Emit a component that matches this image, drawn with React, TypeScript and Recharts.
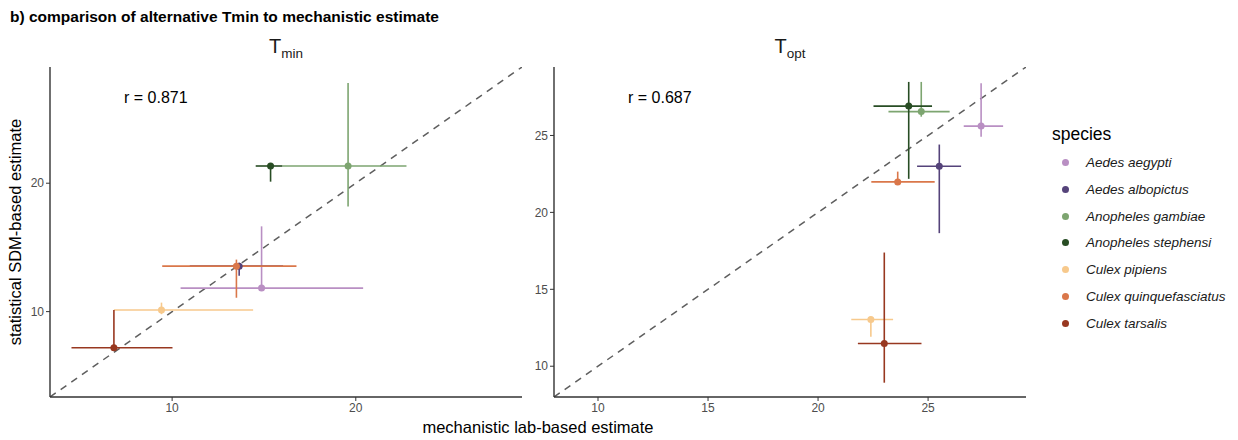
import React from "react";
import {
  ScatterChart,
  Scatter,
  XAxis,
  YAxis,
  ErrorBar,
  ReferenceLine,
} from "recharts";

const FONT = '"Liberation Sans", Arial, sans-serif';

const SPECIES = [
  "Aedes aegypti",
  "Aedes albopictus",
  "Anopheles gambiae",
  "Anopheles stephensi",
  "Culex pipiens",
  "Culex quinquefasciatus",
  "Culex tarsalis",
];
const COLORS = ["#b98fc3", "#55437a", "#7da570", "#284d24", "#f7c98c", "#da774a", "#983820"];

// Tmin panel: mechanistic (x) vs statistical (y), with bounds
const TMIN_MECH = [14.87, 13.65, 19.58, 15.36, 9.42, 13.5, 6.83];
const TMIN_MECH_LO = [10.46, 10.96, 16.0, 14.55, 6.83, 9.46, 4.52];
const TMIN_MECH_HI = [20.4, 16.04, 22.76, 16.0, 14.41, 16.77, 10.02];
const TMIN_SDM = [11.83, 13.54, 21.34, 21.34, 10.12, 13.54, 7.18];
const TMIN_SDM_LO = [11.83, 12.8, 18.19, 20.12, 9.8, 11.08, 7.18];
const TMIN_SDM_HI = [16.64, 13.8, 27.8, 21.34, 10.7, 14.05, 10.12];

// Topt panel
const TOPT_MECH = [27.41, 25.51, 24.69, 24.12, 22.4, 23.62, 23.01];
const TOPT_MECH_LO = [26.62, 24.5, 23.2, 22.52, 21.51, 22.42, 21.81];
const TOPT_MECH_HI = [28.41, 26.5, 25.98, 25.18, 23.41, 25.3, 24.7];
const TOPT_SDM = [25.61, 23.0, 26.55, 26.91, 13.04, 21.98, 11.48];
const TOPT_SDM_LO = [24.92, 18.65, 26.22, 22.18, 11.91, 21.98, 8.93];
const TOPT_SDM_HI = [28.39, 24.41, 28.48, 28.48, 13.04, 22.65, 17.39];

const TMIN_DOMAIN = [3.35, 29.05];
const TMIN_TICKS = [10, 20];
const TOPT_DOMAIN = [8.0, 29.45];
const TOPT_TICKS = [10, 15, 20, 25];

const R_LABELS = ["r = 0.871", "r = 0.687"];

function buildRows(mech, mLo, mHi, sdm, sLo, sHi) {
  return SPECIES.map((name, i) => ({
    name,
    x: mech[i],
    y: sdm[i],
    errX: [mech[i] - mLo[i], mHi[i] - mech[i]],
    errY: [sdm[i] - sLo[i], sHi[i] - sdm[i]],
  }));
}

const tickStyle = { fill: "#4d4d4d", fontSize: 12, fontFamily: FONT };

function Panel({ rows, domain, ticks, left }) {
  return (
    <div style={{ position: "absolute", left, top: 0 }}>
      <ScatterChart width={530} height={440} margin={{ top: 67, right: 8, bottom: 23, left: 0 }}>
        <XAxis
          type="number"
          dataKey="x"
          domain={domain}
          ticks={ticks}
          allowDataOverflow
          height={20}
          tick={tickStyle}
          tickSize={4}
          axisLine={{ stroke: "#333", strokeWidth: 1.4 }}
          tickLine={{ stroke: "#333" }}
        />
        <YAxis
          type="number"
          dataKey="y"
          domain={domain}
          ticks={ticks}
          allowDataOverflow
          width={50}
          tick={tickStyle}
          tickSize={4}
          axisLine={{ stroke: "#333", strokeWidth: 1.4 }}
          tickLine={{ stroke: "#333" }}
        />
        <ReferenceLine
          segment={[
            { x: domain[0], y: domain[0] },
            { x: domain[1], y: domain[1] },
          ]}
          stroke="#5e5e5e"
          strokeWidth={1.5}
          strokeDasharray="7 6"
          ifOverflow="hidden"
        />
        {rows.map((r, i) => (
          <Scatter
            key={r.name}
            data={[r]}
            fill={COLORS[i]}
            isAnimationActive={false}
            shape={(p) => <circle cx={p.cx} cy={p.cy} r={3.5} fill={COLORS[i]} />}
          >
            <ErrorBar dataKey="errX" direction="x" width={0} stroke={COLORS[i]} strokeWidth={1.6} />
            <ErrorBar dataKey="errY" direction="y" width={0} stroke={COLORS[i]} strokeWidth={1.6} />
          </Scatter>
        ))}
      </ScatterChart>
    </div>
  );
}

export default function App() {
  const tminRows = buildRows(TMIN_MECH, TMIN_MECH_LO, TMIN_MECH_HI, TMIN_SDM, TMIN_SDM_LO, TMIN_SDM_HI);
  const toptRows = buildRows(TOPT_MECH, TOPT_MECH_LO, TOPT_MECH_HI, TOPT_SDM, TOPT_SDM_LO, TOPT_SDM_HI);

  return (
    <div
      style={{
        position: "absolute",
        left: 0,
        top: 0,
        width: 1238,
        height: 440,
        background: "#fff",
        fontFamily: FONT,
        color: "#000",
        overflow: "hidden",
      }}
    >
      <Panel rows={tminRows} domain={TMIN_DOMAIN} ticks={TMIN_TICKS} left={0} />
      <Panel rows={toptRows} domain={TOPT_DOMAIN} ticks={TOPT_TICKS} left={504} />

      <div style={{ position: "absolute", left: 10, top: 8, fontSize: 15.5, fontWeight: "bold" }}>
        b) comparison of alternative Tmin to mechanistic estimate
      </div>

      <div style={{ position: "absolute", left: 236, width: 100, top: 35, textAlign: "center", fontSize: 20, color: "#1a1a1a" }}>
        T<sub style={{ fontSize: 13.5 }}>min</sub>
      </div>
      <div style={{ position: "absolute", left: 740, width: 100, top: 35, textAlign: "center", fontSize: 20, color: "#1a1a1a" }}>
        T<sub style={{ fontSize: 13.5 }}>opt</sub>
      </div>

      <div style={{ position: "absolute", left: 124, top: 89, fontSize: 16 }}>{R_LABELS[0]}</div>
      <div style={{ position: "absolute", left: 628, top: 89, fontSize: 16 }}>{R_LABELS[1]}</div>

      <div
        style={{
          position: "absolute",
          left: 15,
          top: 232,
          fontSize: 16.5,
          whiteSpace: "nowrap",
          transform: "translate(-50%, -50%) rotate(-90deg)",
        }}
      >
        statistical SDM-based estimate
      </div>
      <div style={{ position: "absolute", left: 0, width: 1076, top: 418, textAlign: "center", fontSize: 16.5 }}>
        mechanistic lab-based estimate
      </div>

      <div style={{ position: "absolute", left: 1052, top: 124, fontSize: 17.5 }}>species</div>
      {SPECIES.map((s, i) => (
        <div key={s} style={{ position: "absolute", left: 1060, top: 155 + i * 26.8, display: "flex", alignItems: "center" }}>
          <span style={{ width: 7, height: 7, borderRadius: "50%", background: COLORS[i], display: "inline-block", marginLeft: 2 }} />
          <span style={{ marginLeft: 17, fontSize: 13.5, fontStyle: "italic", color: "#1a1a1a" }}>{s}</span>
        </div>
      ))}
    </div>
  );
}
